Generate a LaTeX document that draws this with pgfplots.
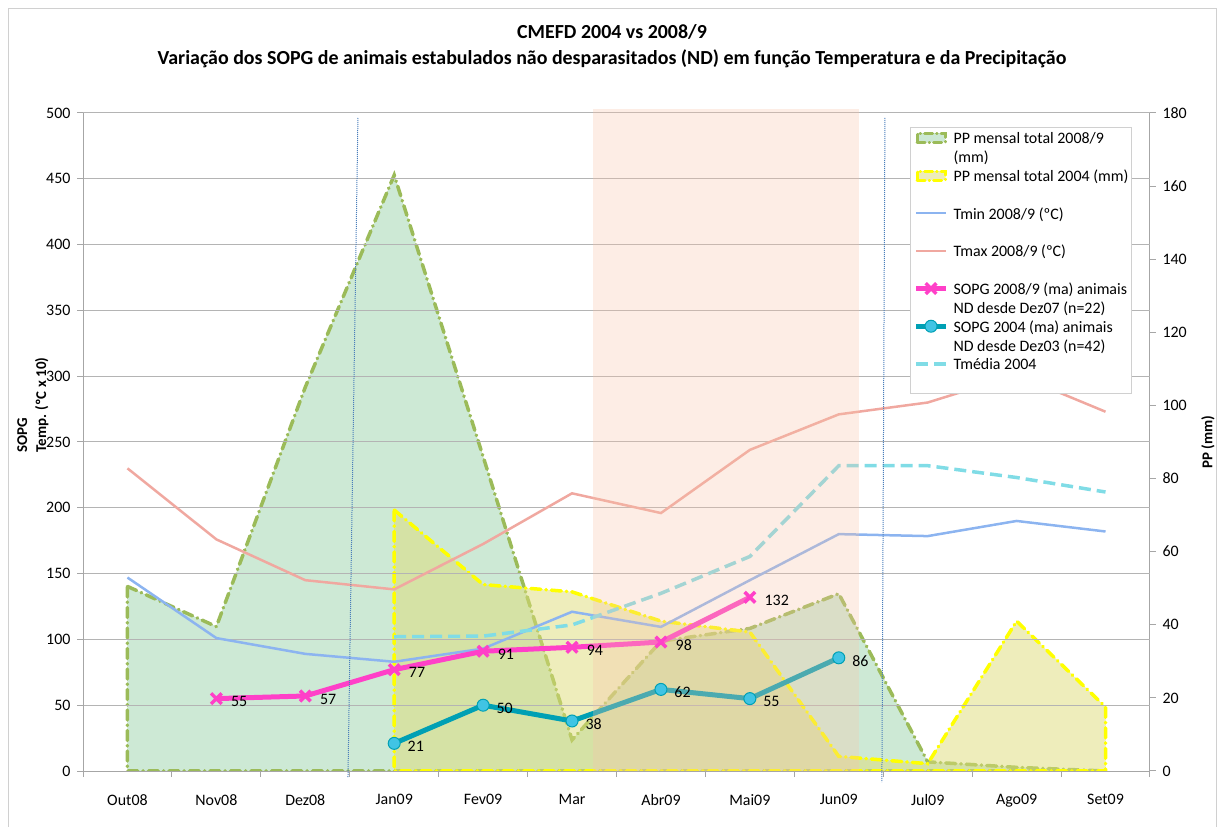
\documentclass[border=0pt]{standalone}
\usepackage{pgfplots}
\pgfplotsset{compat=1.18}
\usepackage{fontspec}
\setmainfont{Carlito}

\definecolor{ppgreen}{HTML}{9BBB59}
\definecolor{ppgreenfill}{HTML}{9BD3AB}
\definecolor{ppyellow}{HTML}{FFFF00}
\definecolor{ppyellowfill}{HTML}{DDDB77}
\definecolor{tminc}{HTML}{8CB4F0}
\definecolor{tmaxc}{HTML}{F0A8A0}
\definecolor{tmedc}{HTML}{80DCE6}
\definecolor{sopgA}{HTML}{FF40C8}
\definecolor{sopgB}{HTML}{00A0B4}
\definecolor{sopgBmark}{HTML}{40C4E4}
\definecolor{salmonc}{HTML}{F8C4A8}
\definecolor{gridgray}{HTML}{B4B4B4}
\definecolor{axisgray}{HTML}{A6A6A6}
\definecolor{vlinec}{HTML}{4A7EBB}
\definecolor{framec}{HTML}{D0D0D0}

\pgfplotsset{
  mylinelegend/.style={legend image code/.code={%
    \draw[mark repeat=2,mark phase=2,##1] plot coordinates {(0bp,9.5bp) (15bp,9.5bp) (30bp,9.5bp)};}},
  myarealegend/.style={legend image code/.code={%
    \draw[##1] (1bp,5bp) rectangle (29bp,14bp);}},
  tlabfont/.style={font=\fontsize{16}{19}\selectfont},
}

\begin{document}
\begin{tikzpicture}
\useasboundingbox (0bp,0bp) rectangle (1221bp,827bp);
\draw[framec, line width=1bp] (8bp,-5bp) -- (8bp,818bp) -- (1216bp,818bp) -- (1216bp,-5bp);
\node[font=\bfseries\fontsize{20}{26}\selectfont, align=center] at (612bp,781bp)
  {CMEFD 2004 vs 2008/9\\Variação dos SOPG de animais estabulados não desparasitados (ND) em função Temperatura e da Precipitação};

% ---------- right axis: precipitation ----------
\begin{axis}[
  at={(83bp,56bp)}, anchor=south west, scale only axis,
  width=1067bp, height=658bp,
  xmin=-0.5, xmax=11.5, ymin=0, ymax=180,
  axis x line=none, axis y line*=right,
  axis line style={axisgray, line width=1bp},
  ytick={0,20,...,180},
  tick align=outside, major tick length=6bp,
  tick style={axisgray, line width=1bp},
  yticklabel style={tlabfont, xshift=3bp},
  /pgf/number format/assume math mode=true,
  ylabel={PP (mm)},
  ylabel style={font=\bfseries\fontsize{15}{18}\selectfont, at={(axis description cs:1.0544,0.5)}, anchor=center},
]
\addplot[draw=ppgreen, line width=3.5bp, dash pattern=on 10bp off 5bp on 0.5bp off 5bp, line cap=round,
  fill=ppgreenfill, fill opacity=0.5]
  coordinates {(0,50.5) (1,39.5) (2,105) (3,163) (4,86) (5,8.5) (6,35.5) (7,39) (8,48.5) (9,2.5) (10,1) (11,0)} \closedcycle;
\addplot[draw=ppyellow, line width=3.5bp, dash pattern=on 10bp off 5bp on 0.5bp off 5bp, line cap=round,
  fill=ppyellowfill, fill opacity=0.5]
  coordinates {(3,71.4) (4,51) (5,49) (6,41) (7,38) (8,4) (9,2) (10,41) (11,17.5)} \closedcycle;
\end{axis}

% ---------- left axis: SOPG and temperature ----------
\begin{axis}[
  at={(83bp,56bp)}, anchor=south west, scale only axis,
  width=1067bp, height=658bp,
  xmin=-0.5, xmax=11.5, ymin=0, ymax=500,
  clip=false,
  axis x line*=bottom, axis y line*=left,
  axis line style={axisgray, line width=1bp},
  xtick={0,...,11},
  xticklabels={Out08,Nov08,Dez08,Jan09,Fev09,Mar,Abr09,Mai09,Jun09,Jul09,Ago09,Set09},
  minor xtick={-0.5,0.5,...,11.5},
  major x tick style={draw=none},
  xticklabel style={yshift=-14bp},
  ytick={0,50,...,500},
  ymajorgrids, grid style={gridgray, line width=1bp},
  tick align=outside, major tick length=6bp, minor tick length=6bp,
  tick style={axisgray, line width=1bp},
  tick label style={tlabfont},
  yticklabel style={xshift=-3bp},
  /pgf/number format/assume math mode=true,
  ylabel={SOPG\\Temp. (ºC x 10)},
  ylabel style={font=\bfseries\fontsize{15}{19}\selectfont, align=left, at={(axis description cs:-0.0469,0.556)}, anchor=center},
  legend style={at={(axis description cs:0.7751,0.9787)}, anchor=north west,
    draw=framec, line width=1bp, fill=white,
    font=\fontsize{16}{19}\selectfont, cells={align=left},
    nodes={inner sep=0bp}, inner xsep=3bp, inner ysep=3bp, column sep=5bp, row sep=4bp},
  legend cell align=left,
  mylinelegend,
  nodes near coords style={anchor=west, xshift=12bp, yshift=-3bp, font=\fontsize{16}{19}\selectfont, text=black, inner sep=1bp},
]
\addlegendimage{myarealegend, draw=ppgreen, line width=3bp, dash pattern=on 8bp off 4bp on 0.5bp off 4bp, line cap=round, fill=ppgreenfill, fill opacity=0.5}
\addlegendentry{\strut PP mensal total 2008/9\\\strut (mm)}
\addlegendimage{myarealegend, draw=ppyellow, line width=3bp, dash pattern=on 8bp off 4bp on 0.5bp off 4bp, line cap=round, fill=ppyellowfill, fill opacity=0.5}
\addlegendentry{\strut PP mensal total 2004 (mm)\\\strut}

\addplot[tminc, line width=2.5bp]
  coordinates {(0,147) (1,101) (2,89) (3,83) (4,93) (5,121) (6,109.5) (7,145) (8,180) (9,178.5) (10,190) (11,182)};
\addlegendentry{\strut Tmin 2008/9 (ºC)\\\strut}

\addplot[tmaxc, line width=2.5bp]
  coordinates {(0,230) (1,176) (2,145) (3,138) (4,172.5) (5,211) (6,196) (7,244) (8,271) (9,280) (10,301) (11,273)};
\addlegendentry{\strut Tmax 2008/9 (ºC)\\\strut}

\addplot[sopgA, line width=5bp, mark=x, mark size=7.5bp, mark options={line width=3.5bp, solid}, nodes near coords]
  coordinates {(1,55) (2,57) (3,77) (4,91) (5,94) (6,98) (7,132)};
\addlegendentry{\strut SOPG 2008/9 (ma) animais\\\strut ND desde Dez07 (n=22)}

\addplot[sopgB, line width=5bp, mark=*, mark size=6bp, mark options={fill=sopgBmark, draw=sopgB, line width=1bp, solid}, nodes near coords]
  coordinates {(3,21) (4,50) (5,38) (6,62) (7,55) (8,86)};
\addlegendentry{\strut SOPG 2004 (ma) animais\\\strut ND desde Dez03 (n=42)}

\addplot[tmedc, line width=3.5bp, dash pattern=on 12bp off 6bp]
  coordinates {(3,102) (4,102.5) (5,111) (6,135) (7,163) (8,232) (9,232) (10,223) (11,212)};
\addlegendentry{\strut Tmédia 2004\\\strut}

\fill[salmonc, fill opacity=0.3] (axis cs:5.235,0) rectangle (axis cs:8.227,503);
\draw[vlinec, line width=1bp, dash pattern=on 1bp off 1bp] (axis cs:2.592,496.2) -- (axis cs:2.480,-5.3);
\draw[vlinec, line width=1bp, dash pattern=on 1bp off 1bp] (axis cs:8.519,496.2) -- (axis cs:8.485,-8.4);
\end{axis}
\end{tikzpicture}
\end{document}
